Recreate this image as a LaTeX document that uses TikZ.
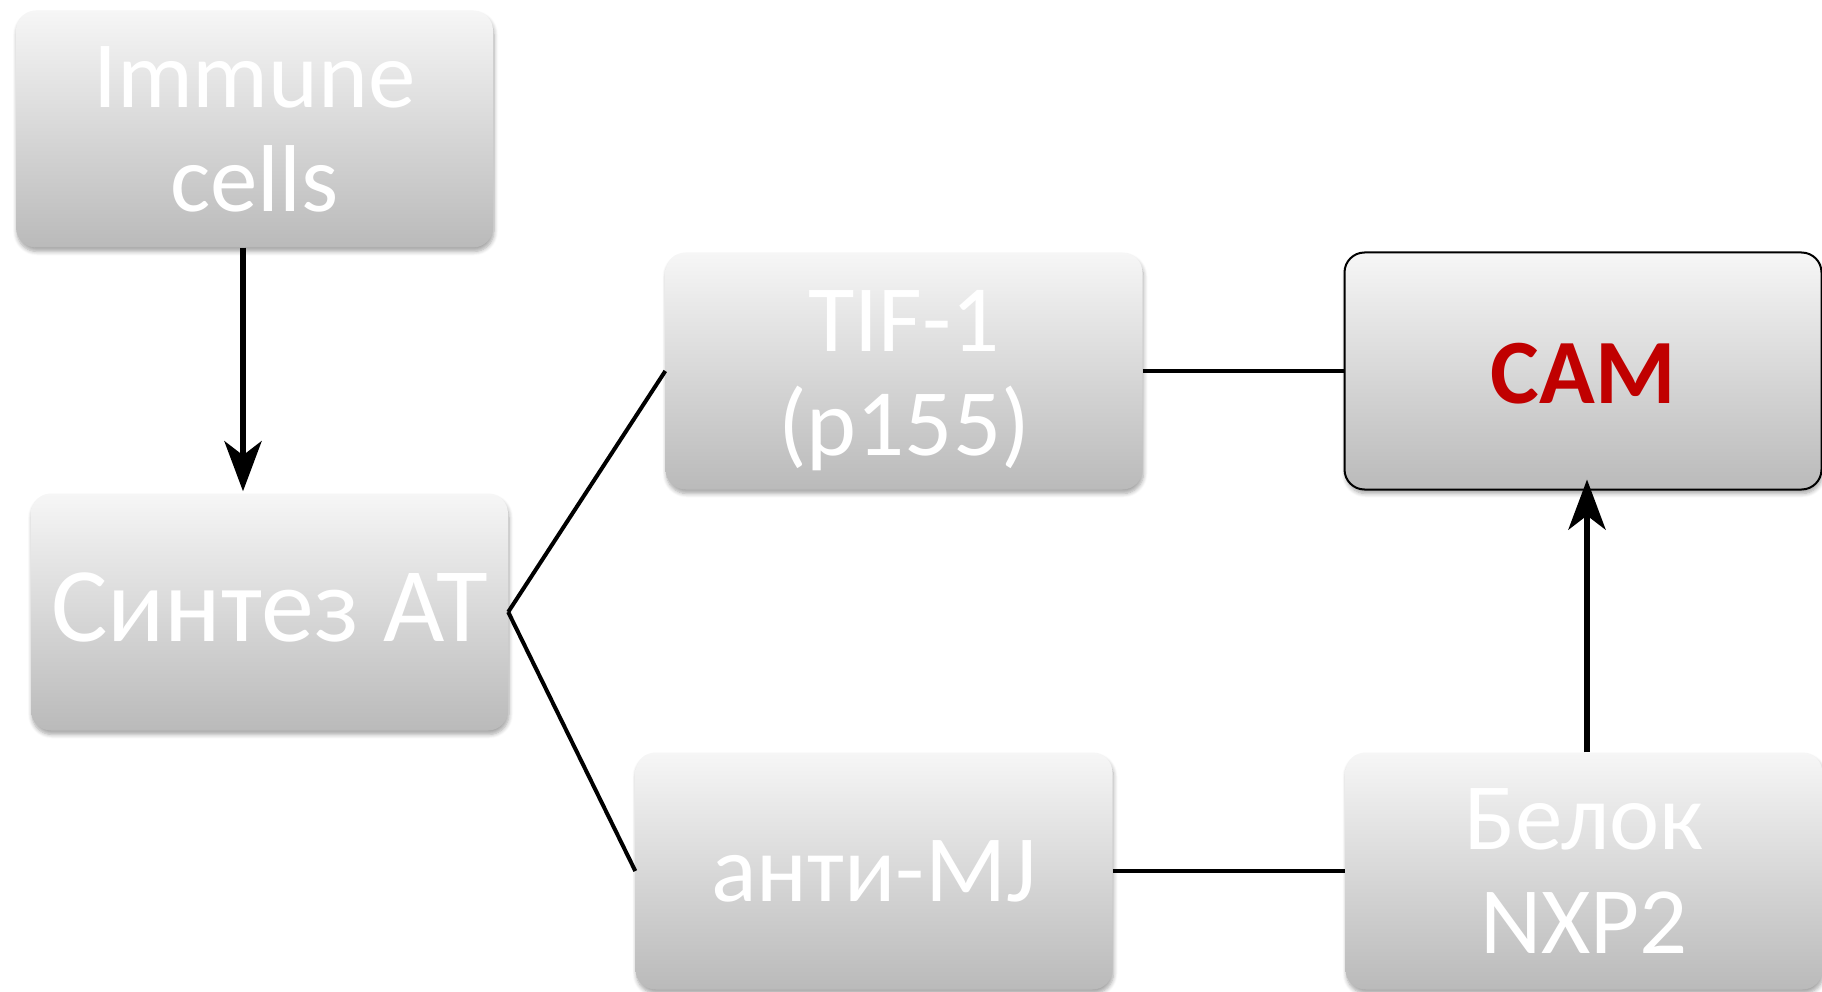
\documentclass[tikz,border=0pt]{standalone}
\usepackage{fontspec}
\setmainfont{Carlito}
\usetikzlibrary{arrows.meta,shadows.blur,calc}
\definecolor{boxtop}{RGB}{246,246,246}
\definecolor{boxbot}{RGB}{186,186,186}
\definecolor{camred}{RGB}{192,0,0}
\begin{document}
\begin{tikzpicture}[x=1pt,y=-1pt,
  gbox/.style={rounded corners=20pt, minimum width=477pt, minimum height=237pt,
    inner sep=0pt, top color=boxtop, bottom color=boxbot, align=center,
    text=white, font=\fontsize{95}{104}\selectfont,
    blur shadow={shadow xshift=1pt, shadow yshift=-4pt, shadow opacity=35,
      shadow blur radius=4pt, shadow blur steps=6}},
  link/.style={line width=4pt, black},
  arr/.style={line width=6.5pt, black,
    -{Stealth[length=50pt, width=37pt, inset=14pt]}}
]
\useasboundingbox (0,0) rectangle (1822,992);

% boxes
\node[gbox] (imm) at (254.5,129) {Immune\\cells};
\node[gbox, font=\fontsize{106}{116}\selectfont] (syn) at (269.5,612)
  {\rule[-9pt]{0pt}{9pt}Синтез AT};
\node[gbox] (tif) at (904,371) {\rule{0pt}{80pt}TIF-1\\(p155)};
\node[gbox, draw=black, line width=2pt, text=camred,
      font=\fontsize{92}{100}\selectfont\bfseries] (cam) at (1583,371)
  {\rule{0pt}{66pt}CAM};
\node[gbox] (anti) at (874,871) {анти-MJ};
\node[gbox] (bel) at (1584,871) {Белок\\NXP2};

% connectors
\draw[arr] ([xshift=-11.5pt]imm.south) -- ([xshift=-11.5pt,yshift=2pt]imm.south |- syn.north);
\draw[link] (syn.east) -- (tif.west);
\draw[link] (syn.east) -- (anti.west);
\draw[link] (tif.east) -- (cam.west);
\draw[link] (anti.east) -- (bel.west);
\draw[arr, shorten >=-11pt] ([xshift=3pt]bel.north) -- ([xshift=3pt]bel.north |- cam.south);
\end{tikzpicture}
\end{document}
